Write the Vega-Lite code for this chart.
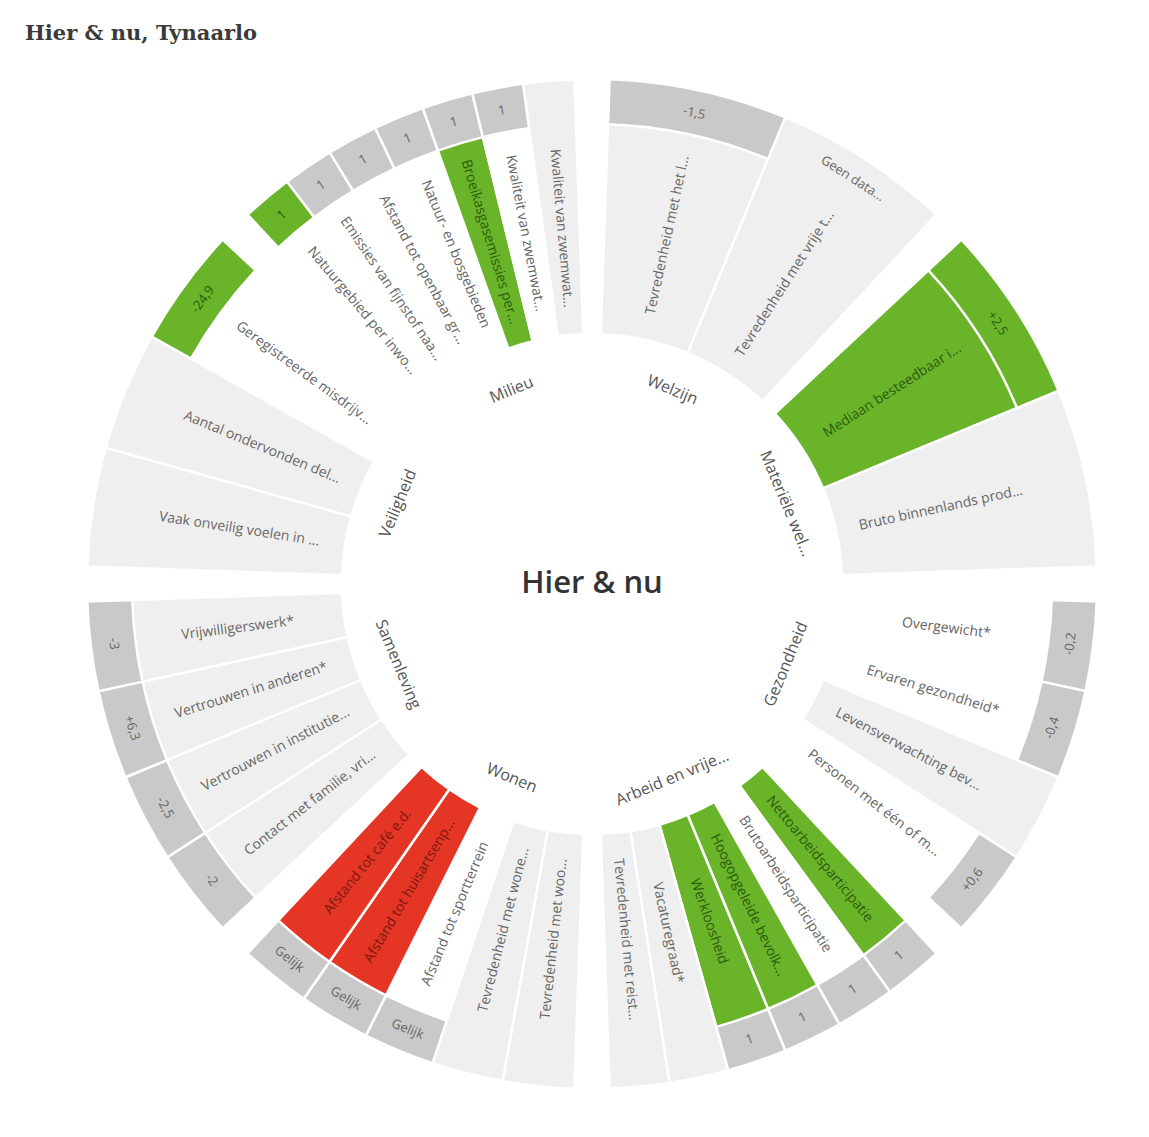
{
  "$schema": "https://vega.github.io/schema/vega-lite/v6.json",
  "width": 1114,
  "height": 1048,
  "autosize": {"type": "none"},
  "padding": {"left": 35, "top": 60, "right": 0, "bottom": 29},
  "background": "white",
  "title": {"text": "Hier & nu, Tynaarlo", "anchor": "start", "font": "DejaVu Serif", "fontSize": 21, "fontWeight": "bold", "color": "#3a3a3a", "dx": -10, "offset": 16},
  "config": {"view": {"stroke": null}},
  "datasets": {
    "ind": [
      {"cat": "Welzijn", "label": "Tevredenheid met het l...", "status": "arcering", "box": "grijs", "value": "-1,5"},
      {"cat": "Welzijn", "label": "Tevredenheid met vrije t...", "status": "arcering", "box": "geen", "value": "Geen data..."},
      {"cat": "Materiële welvaart", "label": "Mediaan besteedbaar i...", "status": "groen", "box": "groen", "value": "+2,5"},
      {"cat": "Materiële welvaart", "label": "Bruto binnenlands prod...", "status": "arcering", "box": "geen", "value": ""},
      {"cat": "Gezondheid", "label": "Overgewicht*", "status": "wit", "box": "grijs", "value": "-0,2"},
      {"cat": "Gezondheid", "label": "Ervaren gezondheid*", "status": "wit", "box": "grijs", "value": "-0,4"},
      {"cat": "Gezondheid", "label": "Levensverwachting bev...", "status": "arcering", "box": "geen", "value": ""},
      {"cat": "Gezondheid", "label": "Personen met één of m...", "status": "wit", "box": "grijs", "value": "+0,6"},
      {"cat": "Arbeid en vrije tijd", "label": "Nettoarbeidsparticipatie", "status": "groen", "box": "grijs", "value": "1"},
      {"cat": "Arbeid en vrije tijd", "label": "Brutoarbeidsparticipatie", "status": "wit", "box": "grijs", "value": "1"},
      {"cat": "Arbeid en vrije tijd", "label": "Hoogopgeleide bevolk...", "status": "groen", "box": "grijs", "value": "1"},
      {"cat": "Arbeid en vrije tijd", "label": "Werkloosheid", "status": "groen", "box": "grijs", "value": "1"},
      {"cat": "Arbeid en vrije tijd", "label": "Vacaturegraad*", "status": "arcering", "box": "geen", "value": ""},
      {"cat": "Arbeid en vrije tijd", "label": "Tevredenheid met reist...", "status": "arcering", "box": "geen", "value": ""},
      {"cat": "Wonen", "label": "Tevredenheid met woo...", "status": "arcering", "box": "geen", "value": ""},
      {"cat": "Wonen", "label": "Tevredenheid met wone...", "status": "arcering", "box": "geen", "value": ""},
      {"cat": "Wonen", "label": "Afstand tot sportterrein", "status": "wit", "box": "grijs", "value": "Gelijk"},
      {"cat": "Wonen", "label": "Afstand tot huisartsenp...", "status": "rood", "box": "grijs", "value": "Gelijk"},
      {"cat": "Wonen", "label": "Afstand tot café e.d.", "status": "rood", "box": "grijs", "value": "Gelijk"},
      {"cat": "Samenleving", "label": "Contact met familie, vri...", "status": "arcering", "box": "grijs", "value": "-2"},
      {"cat": "Samenleving", "label": "Vertrouwen in institutie...", "status": "arcering", "box": "grijs", "value": "-2,5"},
      {"cat": "Samenleving", "label": "Vertrouwen in anderen*", "status": "arcering", "box": "grijs", "value": "+6,3"},
      {"cat": "Samenleving", "label": "Vrijwilligerswerk*", "status": "arcering", "box": "grijs", "value": "-3"},
      {"cat": "Veiligheid", "label": "Vaak onveilig voelen in ...", "status": "arcering", "box": "geen", "value": ""},
      {"cat": "Veiligheid", "label": "Aantal ondervonden del...", "status": "arcering", "box": "geen", "value": ""},
      {"cat": "Veiligheid", "label": "Geregistreerde misdrijv...", "status": "wit", "box": "groen", "value": "-24,9"},
      {"cat": "Milieu", "label": "Natuurgebied per inwo...", "status": "wit", "box": "groen", "value": "1"},
      {"cat": "Milieu", "label": "Emissies van fijnstof naa...", "status": "wit", "box": "grijs", "value": "1"},
      {"cat": "Milieu", "label": "Afstand tot openbaar gr...", "status": "wit", "box": "grijs", "value": "1"},
      {"cat": "Milieu", "label": "Natuur- en bosgebieden", "status": "wit", "box": "grijs", "value": "1"},
      {"cat": "Milieu", "label": "Broeikasgasemissies per...", "status": "groen", "box": "grijs", "value": "1"},
      {"cat": "Milieu", "label": "Kwaliteit van zwemwat...", "status": "wit", "box": "grijs", "value": "1"},
      {"cat": "Milieu", "label": "Kwaliteit van zwemwat...", "status": "arcering", "box": "geen", "value": ""}
    ],
    "cats": [
      {"cat": "Welzijn", "short": "Welzijn"},
      {"cat": "Materiële welvaart", "short": "Materiële wel..."},
      {"cat": "Gezondheid", "short": "Gezondheid"},
      {"cat": "Arbeid en vrije tijd", "short": "Arbeid en vrije..."},
      {"cat": "Wonen", "short": "Wonen"},
      {"cat": "Samenleving", "short": "Samenleving"},
      {"cat": "Veiligheid", "short": "Veiligheid"},
      {"cat": "Milieu", "short": "Milieu"}
    ]
  },
  "layer": [
    {
      "data": {"name": "ind"},
      "transform": [
        {"window": [{"op": "row_number", "as": "k"}], "groupby": ["cat"]},
        {"joinaggregate": [{"op": "count", "as": "n"}], "groupby": ["cat"]},
        {"calculate": "indexof(['Welzijn','Materiële welvaart','Gezondheid','Arbeid en vrije tijd','Wonen','Samenleving','Veiligheid','Milieu'], datum.cat)", "as": "ci"},
        {"calculate": "datum.ci * 45 + 2 + (datum.k - 1) * 41 / datum.n", "as": "a0"},
        {"calculate": "datum.a0 + 41 / datum.n", "as": "a1"},
        {"calculate": "(datum.a0 + datum.a1) / 2", "as": "mid"},
        {"calculate": "datum.mid < 180 ? datum.mid - 90 : datum.mid + 90", "as": "rotL"},
        {"calculate": "(datum.mid < 90 || datum.mid > 270) ? datum.mid : datum.mid - 180", "as": "rotT"}
      ],
      "layer": [
        {
          "mark": {"type": "arc", "radius": 505, "radius2": 250, "stroke": "white", "strokeWidth": 2.5},
          "encoding": {
            "theta": {"field": "a0", "type": "quantitative", "stack": false, "scale": {"domain": [0, 360], "range": [0, 6.283185307]}},
            "theta2": {"field": "a1"},
            "color": {"field": "status", "type": "nominal", "legend": null, "scale": {"domain": ["groen", "rood", "wit", "arcering", "grijs"], "range": ["#6ab42a", "#e53524", "#ffffff", "#efefef", "#c9c9c9"]}}
          }
        },
        {
          "transform": [{"filter": "datum.box !== 'geen'"}],
          "mark": {"type": "arc", "radius": 505, "radius2": 460, "stroke": "white", "strokeWidth": 2.5},
          "encoding": {
            "theta": {"field": "a0", "type": "quantitative", "stack": false, "scale": {"domain": [0, 360], "range": [0, 6.283185307]}},
            "theta2": {"field": "a1"},
            "color": {"field": "box", "type": "nominal", "legend": null, "scale": {"domain": ["groen", "rood", "wit", "arcering", "grijs"], "range": ["#6ab42a", "#e53524", "#ffffff", "#efefef", "#c9c9c9"]}}
          }
        },
        {
          "mark": {"type": "text", "radius": 357, "font": "Open Sans", "fontSize": 14, "align": "center", "baseline": "middle"},
          "encoding": {
            "theta": {"field": "mid", "type": "quantitative", "stack": false, "scale": {"domain": [0, 360], "range": [0, 6.283185307]}},
            "angle": {"field": "rotL", "type": "quantitative", "scale": null},
            "text": {"field": "label"},
            "color": {"condition": [{"test": "datum.status === 'groen'", "value": "#2c5a0c"}, {"test": "datum.status === 'rood'", "value": "#7a1a10"}], "value": "#666666"}
          }
        },
        {
          "mark": {"type": "text", "radius": 482, "font": "Open Sans", "fontSize": 13, "align": "center", "baseline": "middle"},
          "encoding": {
            "theta": {"field": "mid", "type": "quantitative", "stack": false, "scale": {"domain": [0, 360], "range": [0, 6.283185307]}},
            "angle": {"field": "rotT", "type": "quantitative", "scale": null},
            "text": {"field": "value"},
            "color": {"condition": [{"test": "datum.box === 'groen'", "value": "#2c5a0c"}], "value": "#666666"}
          }
        }
      ]
    },
    {
      "data": {"name": "cats"},
      "transform": [
        {"calculate": "indexof(['Welzijn','Materiële welvaart','Gezondheid','Arbeid en vrije tijd','Wonen','Samenleving','Veiligheid','Milieu'], datum.cat)", "as": "ci"},
        {"calculate": "datum.ci * 45 + 22.5", "as": "mid"},
        {"calculate": "(datum.mid < 90 || datum.mid > 270) ? datum.mid : datum.mid - 180", "as": "rotT"}
      ],
      "mark": {"type": "text", "radius": 210, "font": "Open Sans", "fontSize": 16, "align": "center", "baseline": "middle", "color": "#555555"},
      "encoding": {
        "theta": {"field": "mid", "type": "quantitative", "stack": false, "scale": {"domain": [0, 360], "range": [0, 6.283185307]}},
        "angle": {"field": "rotT", "type": "quantitative", "scale": null},
        "text": {"field": "short"}
      }
    },
    {
      "data": {"values": [{"t": "Hier & nu"}]},
      "mark": {"type": "text", "font": "Open Sans", "fontSize": 31, "fontWeight": 600, "align": "center", "baseline": "middle", "color": "#333333"},
      "encoding": {"text": {"field": "t"}}
    }
  ]
}
